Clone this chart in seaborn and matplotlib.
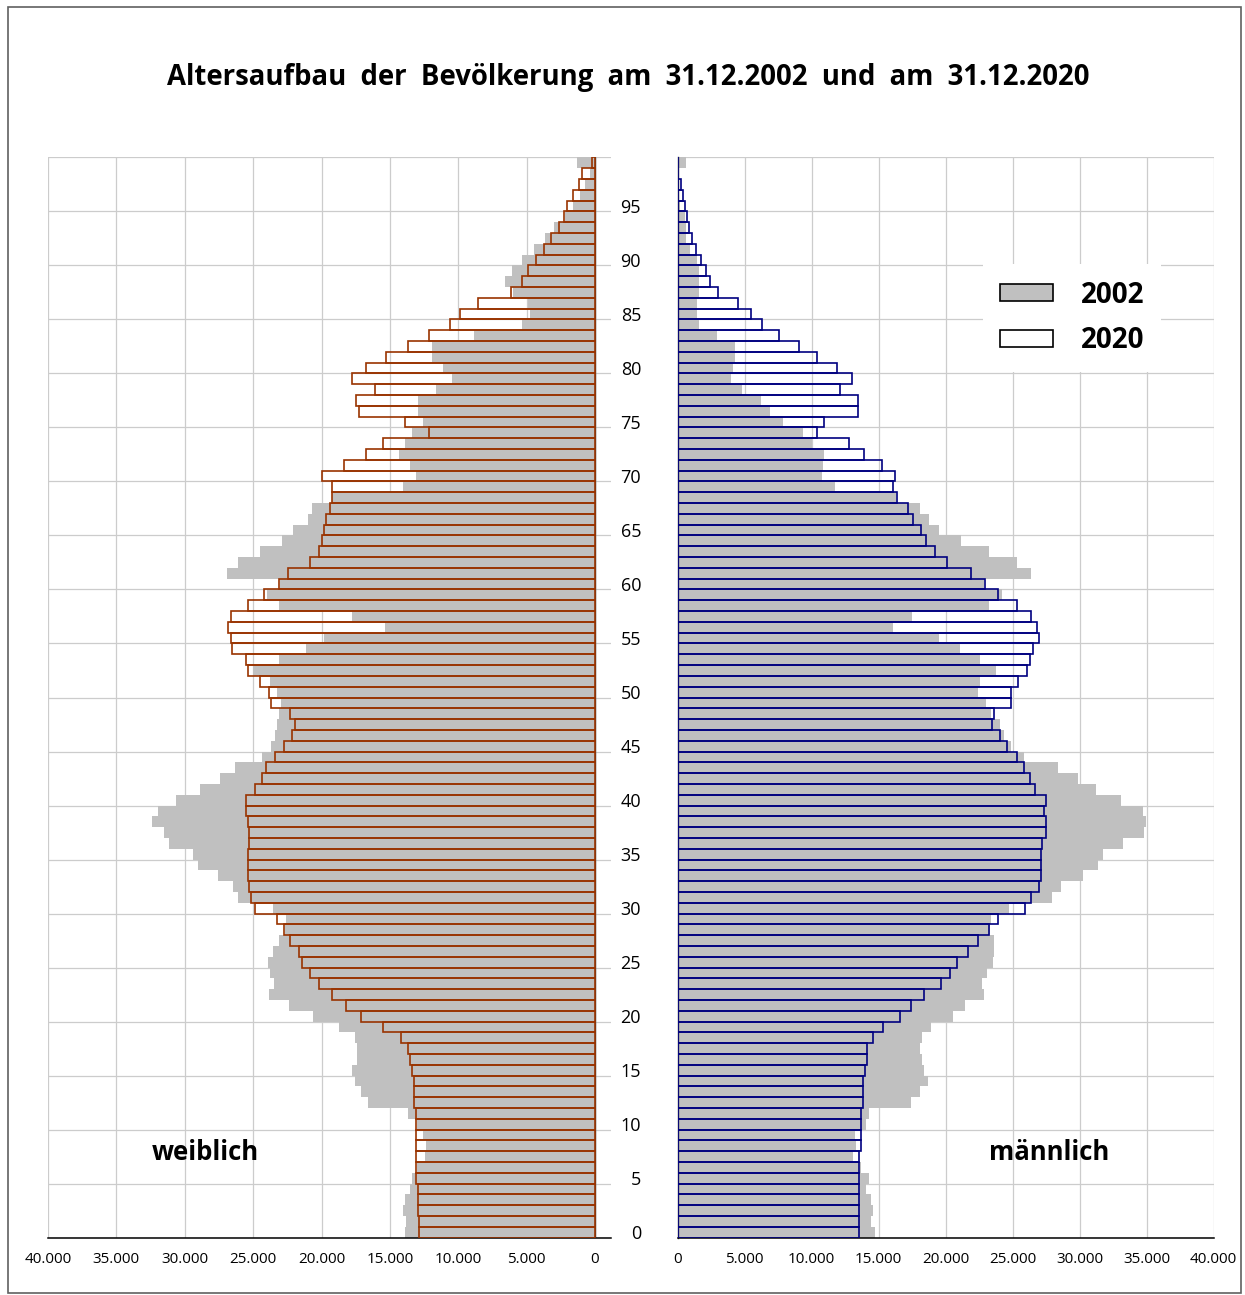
import numpy as np
import pandas as pd
import matplotlib
matplotlib.use('Agg')
import matplotlib.pyplot as plt
import seaborn as sns
from matplotlib.patches import Patch, Rectangle

# Altersaufbau, Werte je Altersjahr 0..99 (Personen)
ages = list(range(100))

w_2002 = [13900, 13840, 14030, 13900, 13520, 13380, 13000, 12460, 12350, 12590,
          13000, 13650, 16600, 17120, 17550, 17790, 17420, 17420, 17550, 18740,
          20640, 22400, 23860, 23460, 23730, 23920, 23560, 23100, 22700, 22620,
          23560, 26140, 26490, 27600, 29060, 29410, 31180, 31550, 32420, 31990,
          30660, 28900, 27440, 26350, 24380, 23670, 23400, 23290, 23080, 22970,
          23270, 23730, 25000, 23130, 21150, 19830, 15360, 17790, 23130, 24000,
          23000, 26920, 26140, 24510, 22910, 22100, 20990, 20720, 19200, 14060,
          13110, 13540, 14330, 13900, 13380, 12590, 12950, 12950, 11620, 10430,
          11130, 11920, 11920, 8860, 5340, 4740, 4930, 5960, 6580, 6040,
          5340, 4440, 3660, 2980, 2170, 1630, 1080, 730, 400, 1350]

w_2020 = [12870, 12870, 12970, 12970, 12970, 13110, 13110, 13110, 13110, 13110,
          13110, 13110, 13240, 13240, 13240, 13380, 13520, 13650, 14190, 15490,
          17120, 18200, 19260, 20200, 20860, 21400, 21670, 22320, 22750, 23270,
          24890, 25140, 25270, 25410, 25410, 25410, 25270, 25270, 25410, 25540,
          25540, 24860, 24350, 24080, 23400, 22750, 22180, 21940, 22320, 23670,
          23810, 24480, 25380, 25540, 26520, 26600, 26870, 26600, 25380, 24210,
          23130, 22480, 20860, 20200, 19930, 19800, 19670, 19390, 19260, 19260,
          19930, 18340, 16710, 15490, 12160, 13920, 17250, 17470, 16060, 17800,
          16740, 15250, 13650, 12160, 10590, 9890, 8590, 6150, 5360, 4930,
          4280, 3760, 3220, 2650, 2280, 2030, 1630, 1200, 950, 190]

m_2002 = [14720, 14450, 14570, 14450, 14040, 14280, 13690, 13100, 13330, 13240,
          14040, 14280, 17440, 18060, 18710, 18420, 18270, 18060, 18270, 18950,
          20540, 21430, 22850, 22730, 23090, 23530, 23620, 23620, 23300, 23410,
          24770, 27930, 28610, 30270, 31390, 31780, 33230, 34790, 34940, 34730,
          33080, 31220, 29890, 28380, 25860, 24920, 24330, 24060, 23400, 23000,
          22440, 22550, 23770, 22550, 21080, 19540, 16110, 17470, 23230, 24180,
          22850, 26400, 25360, 23230, 21190, 19540, 18800, 18060, 16300, 11740,
          10760, 10880, 10970, 10050, 9400, 7890, 6920, 6240, 4820, 3960,
          4140, 4260, 4260, 2930, 1630, 1420, 1420, 1570, 1630, 1570,
          1420, 950, 650, 650, 530, 200, 100, 50, 0, 620]

m_2020 = [13570, 13570, 13570, 13570, 13570, 13570, 13570, 13570, 13720, 13720,
          13720, 13720, 13860, 13860, 13860, 14010, 14160, 14160, 14570, 15370,
          16610, 17440, 18420, 19660, 20310, 20870, 21700, 22410, 23230, 23940,
          25950, 26400, 26960, 27110, 27110, 27110, 27190, 27490, 27490, 27340,
          27490, 26690, 26280, 25840, 25300, 24590, 24060, 23470, 23620, 24860,
          24860, 25420, 26100, 26280, 26540, 26960, 26810, 26370, 25300, 23910,
          22970, 21870, 20100, 19240, 18560, 18150, 17590, 17170, 16350, 16050,
          16230, 15250, 13890, 12770, 10430, 10970, 13480, 13480, 12090, 13040,
          11940, 10430, 9050, 7570, 6300, 5470, 4520, 2990, 2450, 2160,
          1770, 1360, 1060, 830, 680, 530, 380, 270, 0, 0]

x_ticks = list(range(0, 40001, 5000))
age_ticks = list(range(0, 100, 5))

GRAY = '#c0c0c0'
BROWN = '#993300'
NAVY = '#000080'
GRID = '#cccccc'

sns.set_style('white')
plt.rcParams['font.family'] = ['Open Sans', 'DejaVu Sans']
plt.rcParams['text.color'] = 'black'
plt.rcParams['xtick.labelcolor'] = 'black'

W, H = 1245, 1295
fig = plt.figure(figsize=(W / 100, H / 100), dpi=100)
bottom = (H - 1237.7) / H
height = 1080.4 / H
axl = fig.add_axes([48 / W, bottom, 563 / W, height])
axr = fig.add_axes([677.5 / W, bottom, 536 / W, height])

df_w = pd.DataFrame({'alter': ages, 'j2002': w_2002, 'j2020': w_2020})
df_m = pd.DataFrame({'alter': ages, 'j2002': m_2002, 'j2020': m_2020})

for ax, df, col in [(axl, df_w, BROWN), (axr, df_m, NAVY)]:
    sns.barplot(data=df, x='j2002', y='alter', orient='h', native_scale=True,
                width=1, color=GRAY, saturation=1, linewidth=0,
                errorbar=None, ax=ax, zorder=2)
    sns.barplot(data=df, x='j2020', y='alter', orient='h', native_scale=True,
                width=1, fill=False, color=col, saturation=1, linewidth=1.2,
                errorbar=None, ax=ax, zorder=3)
    ax.set_xlabel('')
    ax.set_ylabel('')
    ax.set_ylim(-0.5, 99.5)
    ax.set_yticks(np.arange(-0.5, 100, 5))
    ax.set_yticklabels([])
    ax.set_xticks(x_ticks)
    ax.set_xticklabels([f'{v:,}'.replace(',', '.') for v in x_ticks], fontsize=11)
    ax.grid(True, color=GRID, lw=0.9)
    ax.set_axisbelow(True)
    ax.tick_params(axis='x', direction='out', length=5, width=1, color='black',
                   labelcolor='black', pad=5)
    for s in ['top', 'right']:
        ax.spines[s].set_visible(False)
    ax.spines['bottom'].set_color('black')
    ax.spines['bottom'].set_linewidth(1.1)

axl.set_xlim(40000, -1170)
axl.spines['left'].set_visible(False)
axl.tick_params(axis='y', length=0)
axl.axvline(0, color='#404040', lw=1, zorder=1)

axr.set_xlim(0, 40000)
axr.spines['left'].set_color('#404040')
axr.spines['left'].set_linewidth(1)
axr.tick_params(axis='y', direction='out', length=5, width=1, color='#606060')

# Altersbeschriftung zwischen den Hälften
for a in age_ticks:
    axr.text(-0.068, a - 0.15, str(a), transform=axr.get_yaxis_transform(),
             ha='right', va='center', fontsize=13, color='black')

title = 'Altersaufbau der Bevölkerung am 31.12.2002 und am 31.12.2020'.replace(' ', '  ')
fig.text(628.5 / W, 1 - 77 / H, title, ha='center', va='center',
         fontsize=19.8, fontweight='bold', color='black')
fig.text(205 / W, 1 - 1153 / H, 'weiblich', ha='center', va='center',
         fontsize=18.5, fontweight='bold', color='black')
fig.text(1049 / W, 1 - 1153 / H, 'männlich', ha='center', va='center',
         fontsize=18.5, fontweight='bold', color='black')

handles = [Patch(facecolor=GRAY, edgecolor='black', lw=1.2, label='2002'),
           Patch(facecolor='white', edgecolor='black', lw=1.2, label='2020')]
leg = fig.legend(handles=handles, loc='center', bbox_to_anchor=(1072 / W, 1 - 318 / H),
                 frameon=True, facecolor='white', edgecolor='none', framealpha=1,
                 fancybox=False, prop=dict(family='Open Sans', weight='bold', size=20),
                 handlelength=1.9, handleheight=0.55, handletextpad=1.0,
                 labelspacing=0.6, borderpad=0.6)
for t in leg.get_texts():
    t.set_color('black')

fig.patches.append(Rectangle((8 / W, 2 / H), 1233 / W, 1286 / H, transform=fig.transFigure,
                             fill=False, edgecolor='#606060', lw=1.2))

fig.savefig('out.png', dpi=100)
